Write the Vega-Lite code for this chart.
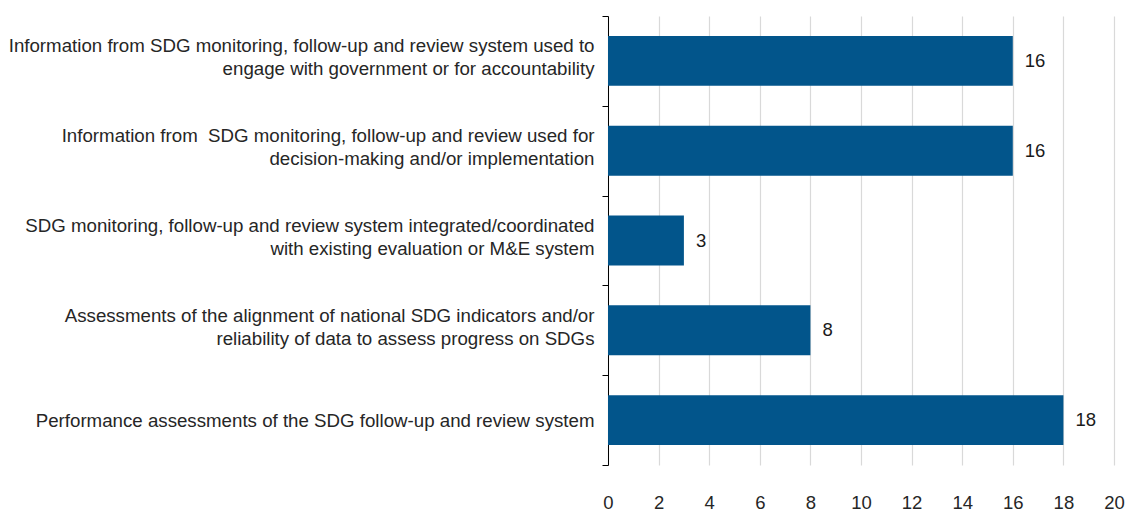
{
  "$schema": "https://vega.github.io/schema/vega-lite/v6.json",
  "autosize": {"type": "none"},
  "padding": {"left": 608, "top": 16, "right": 15, "bottom": 46},
  "width": 506,
  "height": 449,
  "config": {
    "view": {"stroke": null},
    "font": "Liberation Sans",
    "axis": {"labelFont": "Liberation Sans", "labelColor": "#262626"}
  },
  "data": {
    "values": [
      {"label": "Information from SDG monitoring, follow-up and review system used to|engage with government or for accountability", "value": 16},
      {"label": "Information from\u00a0 SDG monitoring, follow-up and review used for|decision-making and/or implementation", "value": 16},
      {"label": "SDG monitoring, follow-up and review system integrated/coordinated|with existing evaluation or M&E system", "value": 3},
      {"label": "Assessments of the alignment of national SDG indicators and/or|reliability of data to assess progress on SDGs", "value": 8},
      {"label": "Performance assessments of the SDG follow-up and review system", "value": 18}
    ]
  },
  "encoding": {
    "y": {
      "field": "label",
      "type": "nominal",
      "sort": null,
      "scale": {"paddingInner": 0, "paddingOuter": 0},
      "axis": {
        "title": null,
        "labelExpr": "split(datum.label, '|')",
        "labelFontSize": 18.7,
        "labelLineHeight": 23,
        "labelPadding": 8,
        "labelLimit": 700,
        "labelOffset": {"expr": "indexof(datum.label, '|') >= 0 ? -15 : 0"},
        "tickBand": "extent",
        "tickSize": 6,
        "tickColor": "#000000",
        "domainColor": "#000000",
        "domainWidth": 1,
        "tickWidth": 1
      }
    },
    "x": {
      "field": "value",
      "type": "quantitative",
      "scale": {"domain": [0, 20], "nice": false},
      "axis": {
        "title": null,
        "values": [0, 2, 4, 6, 8, 10, 12, 14, 16, 18, 20],
        "domain": false,
        "ticks": false,
        "grid": true,
        "gridColor": "#d9d9d9",
        "gridWidth": 1.2,
        "labelFontSize": 18.5,
        "labelPadding": 28,
        "labelFlush": false
      }
    }
  },
  "layer": [
    {"mark": {"type": "bar", "color": "#02558b", "height": {"band": 0.556}}},
    {
      "mark": {"type": "text", "align": "left", "dx": 12, "fontSize": 18.5, "color": "#1a1a1a"},
      "encoding": {"text": {"field": "value", "type": "quantitative"}}
    }
  ]
}
